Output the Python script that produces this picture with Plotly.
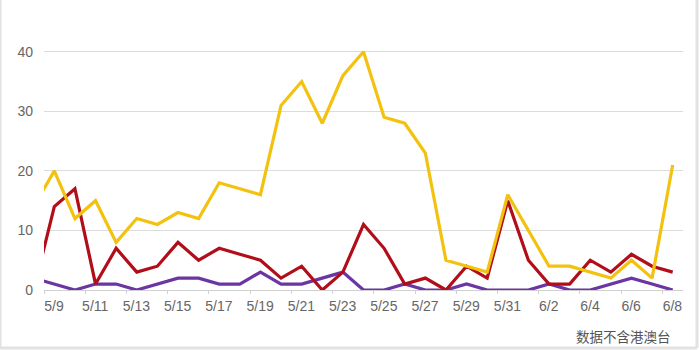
import plotly.graph_objects as go

dates = ["5/8", "5/9", "5/10", "5/11", "5/12", "5/13", "5/14", "5/15", "5/16", "5/17",
         "5/18", "5/19", "5/20", "5/21", "5/22", "5/23", "5/24", "5/25", "5/26", "5/27",
         "5/28", "5/29", "5/30", "5/31", "6/1", "6/2", "6/3", "6/4", "6/5", "6/6",
         "6/7", "6/8"]

yellow = [14, 20, 12, 15, 8, 12, 11, 13, 12, 18,
          17, 16, 31, 35, 28, 36, 40, 29, 28, 23,
          5, 4, 3, 16, 10, 4, 4, 3, 2, 5,
          2, 21]

red = [0, 14, 17, 1, 7, 3, 4, 8, 5, 7,
       6, 5, 2, 4, 0, 3, 11, 7, 1, 2,
       0, 4, 2, 15, 5, 1, 1, 5, 3, 6,
       4, 3]

purple = [2, 1, 0, 1, 1, 0, 1, 2, 2, 1,
          1, 3, 1, 1, 2, 3, 0, 0, 1, 0,
          0, 1, 0, 0, 0, 1, 0, 0, 1, 2,
          1, 0]

tick_labels = dates[1::2]
y_ticks = [0, 10, 20, 30, 40]
note = "数据不含港澳台"

idx = list(range(len(dates)))
label_idx = idx[1::2]

fig = go.Figure()
for vals, color in [(purple, "#6B35A3"), (red, "#B10E1A"), (yellow, "#F3C20F")]:
    fig.add_trace(go.Scatter(x=idx, y=vals, mode="lines",
                             line=dict(color=color, width=3.2),
                             hoverinfo="skip", showlegend=False))

fig.update_layout(
    width=699, height=350,
    margin=dict(l=44, r=16, t=22, b=60),
    paper_bgcolor="white", plot_bgcolor="white",
    font=dict(family="Liberation Sans, Arial, sans-serif", size=14, color="#666"),
    xaxis=dict(
        range=[0.5, len(dates) - 0.5],
        tickmode="array",
        tickvals=[i - 0.5 for i in label_idx],
        ticktext=tick_labels,
        ticklabelshift=10,
        ticks="outside", ticklen=3, tickcolor="#d0d0d0", tickwidth=1,
        showgrid=False, zeroline=False,
        showline=True, linecolor="#d0d0d0", linewidth=1,
        tickfont=dict(size=14, color="#666"),
    ),
    yaxis=dict(
        range=[0, 45],
        tickmode="array", tickvals=y_ticks,
        showgrid=True, gridcolor="#dcdcdc", gridwidth=1,
        zeroline=False, showline=False, ticks="",
        ticklabelstandoff=10,
        tickfont=dict(size=14, color="#666"),
    ),
    annotations=[dict(
        text=note, xref="paper", yref="paper", x=0.985, y=-0.172,
        xanchor="right", yanchor="middle", showarrow=False,
        font=dict(family="Noto Sans CJK SC", size=13.5, color="#555"),
    )],
    shapes=[
        dict(type="line", xref="paper", yref="paper", x0=-44/639, x1=-44/639, y0=-58/268, y1=1.1,
             line=dict(color="#e2e2e2", width=3)),
        dict(type="line", xref="paper", yref="paper", x0=-44/639, x1=1 + 14/639, y0=-58/268, y1=-58/268,
             line=dict(color="#e2e2e2", width=3)),
        dict(type="line", xref="paper", yref="paper", x0=1 + 14/639, x1=1 + 14/639, y0=-58/268, y1=1.1,
             line=dict(color="#e2e2e2", width=3)),
    ],
)

fig.write_html("out.html")
